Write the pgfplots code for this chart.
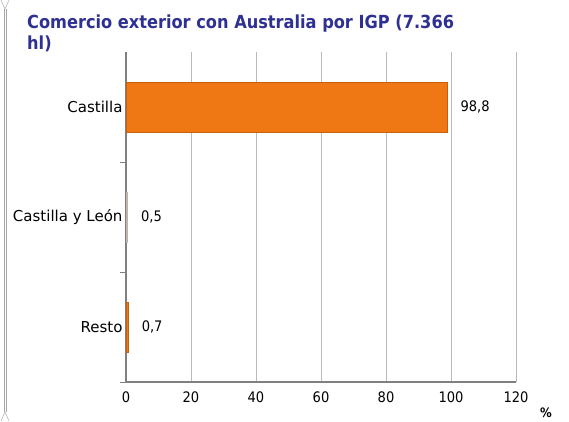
\documentclass[border=0pt]{standalone}
\usepackage{pgfplots}
\pgfplotsset{compat=1.18}
\usepackage{fontspec}
\setmainfont{DejaVu Sans Condensed}
\newfontfamily\wide{DejaVu Sans}
\definecolor{barorange}{RGB}{240,120,20}
\definecolor{barorangedark}{RGB}{200,95,10}
\definecolor{bargrey}{RGB}{210,202,194}
\definecolor{bargreydark}{RGB}{190,180,170}
\definecolor{titleblue}{RGB}{46,49,146}
\definecolor{gridgrey}{RGB}{185,185,185}
\definecolor{axisgrey}{RGB}{128,128,128}
\begin{document}
\begin{tikzpicture}[x=1pt,y=1pt]
\path[use as bounding box] (0,0) rectangle (569,421);
% left decorative bracket
\draw[gray!70, line width=0.5pt] (4,412) -- (4,9);
\draw[gray!70, line width=0.5pt] (6,412) -- (6,9);
\draw[gray!70, line width=0.5pt] (5,412) -- (1,421) (5,412) -- (9,421);
\draw[gray!70, line width=0.5pt] (5,9) -- (1,0) (5,9) -- (9,0);
% title
\node[anchor=north west, align=left, inner sep=0pt, font=\fontsize{18}{20.5}\selectfont\bfseries, text=titleblue] at (27,406) {Comercio exterior con Australia por IGP (7.366\\hl)};
\begin{axis}[
  at={(126pt,39pt)}, anchor=south west,
  scale only axis, width=390pt, height=330pt,
  xmin=0, xmax=120, ymin=-0.5, ymax=2.5,
  xbar, bar width=50pt, bar shift=0pt,
  axis x line*=bottom, axis y line*=left,
  axis line style={axisgrey, line width=1.2pt},
  xtick={0,20,...,120},
  xmajorgrids, grid style={gridgrey, line width=0.9pt},
  ytick={0,1,2},
  yticklabels={Resto,Castilla y León,Castilla},
  major tick length=0pt,
  extra y ticks={-0.5,0.5,1.5},
  extra y tick labels={},
  extra y tick style={major tick length=6pt, tick align=outside, tick style={axisgrey, line width=1pt}, grid=none},
  tick label style={font=\fontsize{14.5}{16}\selectfont},
  yticklabel style={font=\fontsize{15}{16}\selectfont\wide},
  xticklabel style={yshift=-6pt},
  /pgf/number format/assume math mode=true,
  xlabel={\%},
  xlabel style={at={(axis description cs:1.077,-0.094)}, anchor=center, font=\fontsize{13}{15}\selectfont\bfseries},
  nodes near coords,
  point meta=explicit symbolic,
  nodes near coords style={anchor=west, xshift=10pt, font=\fontsize{14.5}{16}\selectfont, text=black},
  clip=false,
]
\addplot[fill=barorange, draw=barorangedark] coordinates {(98.8,2) [98,8]};
\addplot[fill=bargrey, draw=bargreydark] coordinates {(0.5,1) [0,5]};
\addplot[fill=barorange, draw=barorangedark] coordinates {(0.7,0) [0,7]};
\end{axis}
\end{tikzpicture}
\end{document}
